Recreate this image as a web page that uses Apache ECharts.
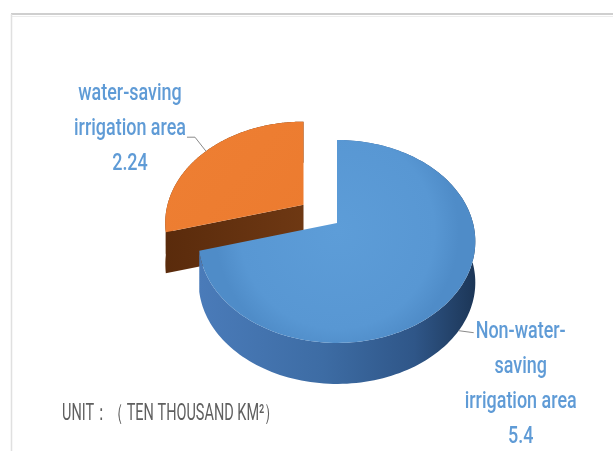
<!DOCTYPE html>
<html>
<head>
<meta charset="utf-8">
<script src="https://cdn.jsdelivr.net/npm/echarts@6/dist/echarts.min.js"></script>
<style>
  html, body { margin: 0; padding: 0; background: #ffffff; }
  #chart { width: 613px; height: 451px; }
</style>
</head>
<body>
<div id="chart"></div>
<script>
// Irrigation area split (ten thousand km²)
const sliceNames = ['Non-water-saving irrigation area', 'water-saving irrigation area'];
const sliceLabels = ['Non-water-\nsaving\nirrigation area', 'water-saving\nirrigation area'];
const sliceValues = [5.4, 2.24];
const sliceExplode = [0, 0.32];
const unitText = 'UNIT：（ TEN THOUSAND KM²）';

// Tilted-disc geometry with a little perspective
const PIE = { cx: 337, cy: 223, r: 136, k: 98.1, persp: 0.182, depth: 41 };

const STYLES = [
  {
    top: { type: 'radial', x: 0.5, y: 0.45, r: 0.6,
           colorStops: [{ offset: 0, color: '#5d9dd8' }, { offset: 0.8, color: '#5897d3' }, { offset: 1, color: '#4f8cc8' }] },
    side: { type: 'linear', x: 0, y: 0, x2: 1, y2: 0,
            colorStops: [{ offset: 0, color: '#4a7bb9' }, { offset: 0.45, color: '#3d6ca4' },
                         { offset: 0.78, color: '#2f5688' }, { offset: 1, color: '#1c3657' }] },
    cut: '#3c6ba3',
    label: { dx: 62, dy: 95, onSide: true }
  },
  {
    top: { type: 'linear', x: 0, y: 0, x2: 1, y2: 1,
           colorStops: [{ offset: 0, color: '#ee7f33' }, { offset: 1, color: '#ec7b2f' }] },
    side: '#643210',
    cut: { type: 'linear', x: 0, y: 0, x2: 1, y2: 0,
           colorStops: [{ offset: 0, color: '#5a2b0c' }, { offset: 1, color: '#6e3813' }] },
    label: { dx: -76, dy: -22, onSide: false }
  }
];

const LABEL_COLOR = '#5f9bd6';
const LEADER_COLOR = '#8a8a8a';
const LABEL_FONT = { fontSize: 23, fontFamily: 'Roboto', fontWeight: 500 };

function project(u, v) {
  const s = 1 / (1 + PIE.persp * v);
  return [PIE.cx + PIE.r * u * s, PIE.cy - PIE.k * v * s];
}

const total = sliceValues.reduce((a, b) => a + b, 0);
const startAngles = [];
let acc = 0;
sliceValues.forEach(v => { startAngles.push(acc / total * Math.PI * 2); acc += v; });

function renderSlice(params, api) {
  const i = params.dataIndex;
  const value = api.value(0);
  const a0 = startAngles[i];
  const a1 = a0 + value / total * Math.PI * 2;
  const am = (a0 + a1) / 2;
  const ex = sliceExplode[i];
  // pulled-out slices are shifted on screen along their bisector
  const c0 = project(0, 0);
  const c1 = project(ex * Math.sin(am), ex * Math.cos(am));
  const ox = c1[0] - c0[0], oy = c1[1] - c0[1];
  const P = (u, v) => { const p = project(u, v); return [p[0] + ox, p[1] + oy]; };
  const st = STYLES[i];
  const H = PIE.depth;
  const base = i === 0 ? 10 : 0;

  const apex = P(0, 0);
  const rim = [];
  const steps = 160;
  for (let s = 0; s <= steps; s++) {
    const a = a0 + (a1 - a0) * s / steps;
    rim.push(P(Math.sin(a), Math.cos(a)));
  }
  const rimLow = rim.map(p => [p[0], p[1] + H]).reverse();

  const children = [];
  // outer wall
  children.push({ type: 'polygon', z2: base + 1, shape: { points: rim.concat(rimLow) },
                  style: { fill: st.side } });
  // radial face along the leading edge
  const r0 = rim[0];
  children.push({ type: 'polygon', z2: base + 2,
                  shape: { points: [apex, r0, [r0[0], r0[1] + H], [apex[0], apex[1] + H]] },
                  style: { fill: st.cut } });
  // top face
  children.push({ type: 'polygon', z2: base + 3, shape: { points: [apex].concat(rim) },
                  style: { fill: st.top } });

  // label and leader
  const mid = P(Math.sin(am), Math.cos(am));
  const lb = st.label;
  const text = sliceLabels[i] + '\n' + value;
  const textEl = {
    type: 'text', z2: 31, x: mid[0] + lb.dx, y: mid[1] + lb.dy, scaleX: 0.78,
    style: Object.assign({ text, fill: LABEL_COLOR, align: 'center',
                           verticalAlign: 'middle', lineHeight: 35 }, LABEL_FONT)
  };
  if (lb.onSide) {
    const p0 = [mid[0], mid[1] + H];
    children.push({ type: 'polyline', z2: 30,
                    shape: { points: [p0, [p0[0] + 15, p0[1] + 2]] },
                    style: { stroke: LEADER_COLOR, lineWidth: 1, fill: null } });
  } else {
    const elbow = [mid[0] - 11, mid[1] - 14];
    children.push({ type: 'polyline', z2: 30,
                    shape: { points: [mid, elbow, [elbow[0] - 8, elbow[1]]] },
                    style: { stroke: LEADER_COLOR, lineWidth: 1, fill: null } });
  }
  children.push(textEl);
  return { type: 'group', children };
}

const chart = echarts.init(document.getElementById('chart'), null, { renderer: 'canvas' });
chart.setOption({
  backgroundColor: '#ffffff',
  animation: false,
  graphic: [
    { type: 'line', shape: { x1: 11, y1: 14, x2: 613, y2: 14 }, style: { stroke: '#cfcfcf', lineWidth: 2 } },
    { type: 'line', shape: { x1: 11, y1: 16.5, x2: 613, y2: 16.5 }, style: { stroke: '#ececec', lineWidth: 1 } },
    { type: 'line', shape: { x1: 11.5, y1: 14, x2: 11.5, y2: 451 }, style: { stroke: '#e0e0e0', lineWidth: 1.5 } },
    { type: 'text', x: 62, y: 414, scaleX: 0.63,
      style: { text: unitText, fill: '#5f5f5f', fontSize: 23, fontFamily: 'Roboto', align: 'left', verticalAlign: 'middle' } }
  ],
  series: [{
    type: 'custom',
    coordinateSystem: 'none',
    renderItem: renderSlice,
    data: sliceValues.map((v, i) => ({ name: sliceNames[i], value: [v] }))
  }]
});
</script>
</body>
</html>
